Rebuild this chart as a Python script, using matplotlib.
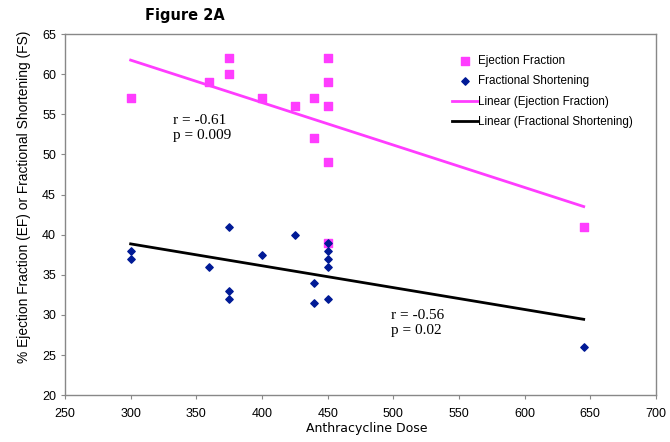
import numpy as np
import matplotlib.pyplot as plt

# Data
ef_dose = [300, 360, 375, 375, 400, 425, 440, 440, 450, 450, 450, 450, 450, 645]
ef_vals = [57, 59, 62, 60, 57, 56, 57, 52, 62, 59, 56, 49, 39, 41]

fs_dose = [300, 300, 360, 375, 375, 375, 400, 425, 440, 440, 450, 450, 450, 450, 450, 645]
fs_vals = [38, 37, 36, 41, 33, 32, 37.5, 40, 34, 31.5, 39, 38, 37, 36, 32, 26]

# trend line end points as drawn in the figure
trend_dose = [300, 645]
ef_trend = [61.75, 43.5]
fs_trend = [38.85, 29.45]

pink = "#FF3DFF"
navy = "#001A96"
gray = "#888888"

fig = plt.figure(figsize=(6.7, 4.42), dpi=100)
ax = fig.add_axes([0.097, 0.106, 0.882, 0.817])

ax.scatter(ef_dose, ef_vals, marker="s", s=28, color=pink, label="Ejection Fraction", zorder=2)
ax.scatter(fs_dose, fs_vals, marker="D", s=14, color=navy, label="Fractional Shortening", zorder=3)

ax.plot(trend_dose, ef_trend, color=pink, lw=2, label="Linear (Ejection Fraction)", zorder=4)
ax.plot(trend_dose, fs_trend, color="black", lw=2, label="Linear (Fractional Shortening)", zorder=4)

ax.set_xlim(250, 700)
ax.set_ylim(20, 65)
ax.set_xticks(np.arange(250, 701, 50))
ax.set_yticks(np.arange(20, 66, 5))

for s in ax.spines.values():
    s.set_color(gray)
    s.set_linewidth(1)
ax.tick_params(direction="out", length=3, color=gray, labelsize=9,
               labelfontfamily="Liberation Sans")
ax.tick_params(axis="x", pad=6)

ax.set_xlabel("Anthracycline Dose", fontsize=9, family="DejaVu Sans", labelpad=2, x=0.51)
ax.set_ylabel("% Ejection Fraction (EF) or Fractional Shortening (FS)", fontsize=9.9,
              family="Liberation Sans", labelpad=8, y=0.548)

fig.text(0.217, 0.965, "Figure 2A", fontsize=10.5, fontweight="bold", family="DejaVu Sans",
         va="center")

ax.text(332, 55.0, "r = -0.61\np = 0.009", fontsize=11, family="Liberation Serif",
        va="top", linespacing=1.15)
ax.text(498, 30.7, "r = -0.56\np = 0.02", fontsize=11, family="Liberation Serif",
        va="top", linespacing=1.15)

leg = ax.legend(loc="upper left", bbox_to_anchor=(0.647, 0.955), frameon=False,
                prop={"family": "Liberation Sans", "size": 8.4}, handlelength=2.2,
                handletextpad=0.05, labelspacing=0.72, borderaxespad=0)

fig.savefig("out.png", dpi=100)
